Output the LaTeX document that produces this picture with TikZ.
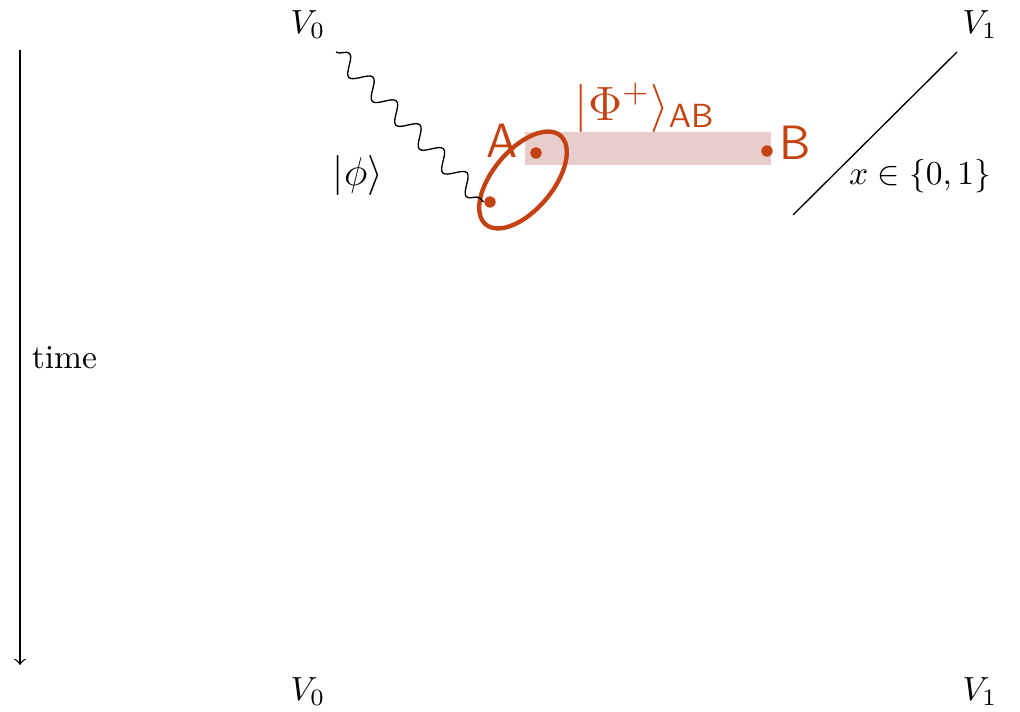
\documentclass[tikz,border=0pt]{standalone}
\usetikzlibrary{decorations.pathmorphing}
\definecolor{ink}{RGB}{196,66,18}
\definecolor{band}{RGB}{233,205,205}
\tikzset{wavy/.style={decorate,decoration={snake,segment length=10pt,amplitude=2.6pt}},
	dot/.style={circle,fill=ink,inner sep=0pt,minimum size=3.4pt},
	hand/.style={text=ink,font=\sffamily\Large}}
\begin{document}
\begin{tikzpicture}[x=0.0105cm,y=-0.0105cm]
			\useasboundingbox (0,0) rectangle (1020,712);
			% time axis
			\coordinate (tstart) at (20,50);
			\coordinate (tend) at (20,665);
			\draw[->] (tstart) -- (tend) node[pos=0.5,right] (time) {time};
			% parties
			\node (v0top) at (308,25) {$V_0$};
			\node (v1top) at (980,25) {$V_1$};
			\node (v0bot) at (308,692) {$V_0$};
			\node (v1bot) at (980,692) {$V_1$};
			% entangled pair (hand drawn)
			\fill[band] (525,132) rectangle (771,165);
			\node[dot] (adot) at (536,153) {};
			\node[dot] (bdot) at (767,151) {};
			\node[dot] (cdot) at (490,202) {};
			\draw[ink,line width=1.3pt,rotate around={50:(523,180)}] (523,180) ellipse [x radius=58,y radius=30];
			\node[hand] (alabel) at (502,141) {A};
			\node[hand] (blabel) at (795,143) {B};
			\node[hand] (philabel) at (645,108) {$|\Phi^{+}\rangle_{\mathsf{AB}}$};
			% photon and classical bit
			\coordinate (wstart) at (336,52);
			\draw[wavy] (wstart) -- (cdot.west);
			\node[font=\large] (phi) at (358,175) {$|\phi\rangle$};
			\coordinate (lstart) at (957,52);
			\coordinate (lend) at (793,215);
			\draw (lstart) -- (lend);
			\node (xlabel) at (920,176) {$x\in\{0,1\}$};
		\end{tikzpicture}
\end{document}
